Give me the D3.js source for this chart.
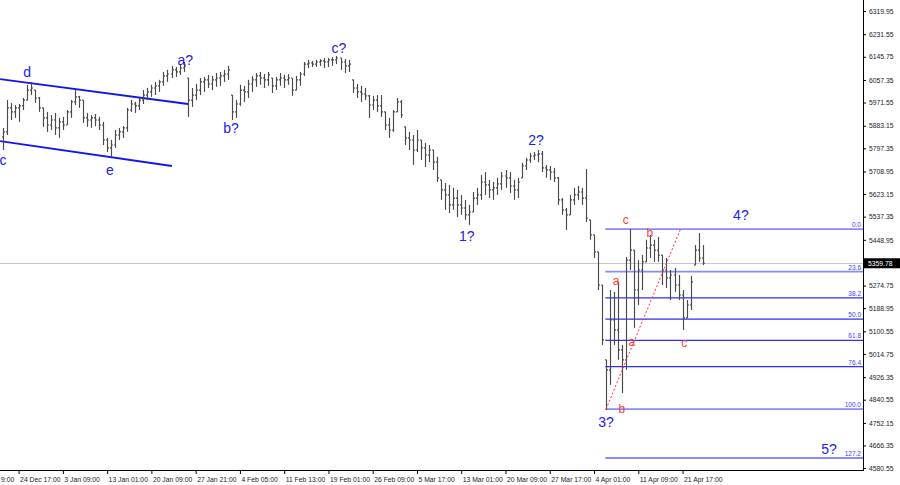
<!DOCTYPE html>
<html><head><meta charset="utf-8">
<script src="https://cdn.jsdelivr.net/npm/d3@7"></script>
<style>body{margin:0;background:#fff}svg{display:block}</style>
</head><body><svg id="c" width="900" height="485"></svg>
<script>
// ---- data (prices) ----
const highs=[
5875,5981,5970,5962,5966,5989,6039,6050,6019,5993,
5951,5936,5924,5932,5913,5917,5943,5981,6019,5997,
5981,5932,5924,5928,5917,5898,5837,5829,5867,5875,
5882,5951,5981,5974,5989,6019,6027,6039,6050,6058,
6088,6096,6111,6107,6115,6126,6065,6027,6042,6065,
6069,6077,6073,6084,6088,6096,6111,6000,5981,6039,
6035,6058,6073,6084,6088,6080,6088,6065,6069,6084,
6077,6080,6065,6073,6088,6126,6134,6130,6134,6137,
6141,6141,6145,6149,6141,6137,6134,6058,6042,6035,
6027,6000,5997,6000,6000,5936,5913,5943,5989,5981,
5879,5860,5848,5867,5829,5818,5810,5791,5765,5677,
5665,5658,5647,5639,5620,5601,5582,5631,5647,5696,
5707,5677,5669,5685,5707,5715,5707,5677,5685,5742,
5761,5780,5783,5791,5787,5734,5730,5723,5688,5608,
5570,5620,5647,5654,5647,5719,5525,5468,5403,5277,
4992,5258,5251,5289,5049,5384,5490,5410,5372,5391,
5449,5468,5449,5460,5391,5380,5334,5342,5315,5258,
5220,5312,5429,5475,5429];
const lows=[
5791,5848,5905,5913,5898,5943,5981,6000,5970,5936,
5879,5860,5867,5848,5837,5867,5886,5913,5962,5951,
5894,5879,5875,5882,5867,5810,5783,5765,5799,5829,
5837,5860,5936,5932,5943,5966,5981,5993,6000,6012,
6035,6050,6065,6069,6077,6088,5917,5955,5981,6000,
6012,6027,6019,6031,6035,6050,6058,5905,5913,5959,
5974,5989,6012,6031,6039,6027,6035,6008,6019,6035,
6027,6039,5997,6019,6035,6073,6103,6107,6107,6111,
6103,6107,6111,6118,6096,6084,6088,6008,5989,5974,
5981,5913,5943,5936,5917,5867,5837,5860,5936,5913,
5810,5791,5734,5783,5753,5726,5745,5715,5669,5601,
5563,5551,5563,5536,5544,5525,5506,5555,5582,5601,
5620,5608,5601,5620,5639,5647,5627,5601,5608,5685,
5715,5742,5753,5745,5707,5685,5677,5669,5582,5544,
5487,5544,5582,5601,5582,5517,5449,5380,5258,5049,
4801,4897,5049,4992,4866,4954,5334,5114,5201,5258,
5365,5380,5365,5365,5277,5266,5220,5251,5220,5106,
5152,5182,5353,5365,5353];
const closes=[
5860,5951,5936,5951,5959,5981,6019,6027,5989,5951,
5913,5886,5905,5875,5898,5886,5936,5974,5993,5981,
5913,5905,5913,5905,5886,5829,5799,5810,5848,5860,
5875,5943,5966,5959,5981,6000,6012,6027,6035,6050,
6073,6080,6096,6088,6103,6111,5981,6000,6019,6050,
6058,6042,6058,6065,6073,6080,6096,5936,5966,6019,
6012,6042,6058,6073,6065,6058,6077,6035,6058,6065,
6058,6065,6019,6058,6080,6118,6122,6118,6126,6130,
6126,6134,6134,6141,6126,6111,6118,6027,6012,6004,
5997,5962,5981,5959,5936,5886,5867,5936,5974,5924,
5837,5829,5791,5829,5799,5772,5791,5745,5685,5639,
5620,5582,5608,5582,5570,5544,5555,5608,5620,5669,
5658,5639,5647,5662,5692,5685,5654,5639,5669,5730,
5753,5768,5772,5776,5723,5715,5707,5685,5601,5563,
5544,5601,5620,5631,5608,5532,5468,5403,5277,5068,
4954,5144,5106,5030,4992,5372,5410,5258,5334,5365,
5418,5429,5410,5391,5334,5304,5315,5277,5239,5152,
5201,5289,5410,5380,5359.78];
const firstOpen=5840;
const lastPrice=5359.78;

const yTickValues=[6319.95,6231.55,6145.75,6057.35,5971.55,5883.15,5797.35,5708.95,5623.15,5537.35,5448.95,5274.75,5188.95,5100.55,5014.75,4926.35,4840.55,4752.15,4666.35,4580.55];
const dateLabels=["9:00","24 Dec 17:00","3 Jan 09:00","13 Jan 01:00","20 Jan 09:00","27 Jan 21:00","4 Feb 05:00","11 Feb 13:00","19 Feb 01:00","26 Feb 09:00","5 Mar 17:00","13 Mar 01:00","20 Mar 09:00","27 Mar 17:00","4 Apr 01:00","11 Apr 09:00","21 Apr 17:00"];
const dateBars=[-7,4,15,26,37,48,59,70,81,92,103,114,125,136,147,158,169];

const fibHigh=5490, fibLow=4805, fibStartBar=149.8;
const fibLevels=[0,23.6,38.2,50,61.8,76.4,100,127.2];
const fibNames=["0.0","23.6","38.2","50.0","61.8","76.4","100.0","127.2"];

const channelUpper=[[-0.6,6061],[46.1,5966]];
const channelLower=[[-0.6,5825],[42.1,5730]];
const redTrend=[[150,4805],[168.5,5490]];

const waveText=["c","d","e","a?","b?","c?","1?","2?","3?","4?","5?"];
const waveBar=[0.1,6.1,26.7,45.4,56.8,83.6,115.4,132.6,150,183.5,205.4];
const wavePrice=[5753,6088,5715,6134,5875,6179,5464,5829,4756,5544,4653];

const subText=["c","b","a","a","b","c"];
const subBar=[154.9,160.9,152.5,156.4,153.9,169.4];
const subPrice=[5525,5475,5293,5060,4805,5057];

// ---- chart ----
const svg=d3.select("#c");
const R=863, B=470;
const x=d3.scaleLinear().domain([0,214]).range([2.5,2.5+4.024*214]);
const y=d3.scaleLinear().domain([4580.55,6319.95]).range([468,11]);
const FONT="'Liberation Sans', Arial, sans-serif";

svg.append("rect").attr("width",900).attr("height",485).attr("fill","#fff");
svg.append("clipPath").attr("id","pc").append("rect").attr("x",0).attr("y",0).attr("width",R).attr("height",B);
const plot=svg.append("g").attr("clip-path","url(#pc)");

// current price line
plot.append("line").attr("x1",0).attr("x2",R).attr("y1",Math.round(y(lastPrice))+0.5).attr("y2",Math.round(y(lastPrice))+0.5)
  .attr("stroke","#c8c8c8").attr("stroke-width",1);

// fib lines
const light=[true,true,false,false,false,false,true,true];
fibLevels.forEach((lv,k)=>{
  const p=fibHigh-(fibHigh-fibLow)*lv/100;
  const yy=y(p);
  plot.append("line").attr("x1",x(fibStartBar)).attr("x2",R).attr("y1",yy).attr("y2",yy)
    .attr("stroke",light[k]?"#8a8aff":"#2f2ff0").attr("stroke-width",light[k]?1.8:1.2);
  svg.append("text").attr("x",861).attr("y",yy-2).attr("text-anchor","end")
    .attr("font-family",FONT).attr("font-size",6.5).attr("fill","#3a3aff").text(fibNames[k]);
});

// channel lines
[channelUpper,channelLower].forEach(c=>{
  plot.append("line").attr("x1",x(c[0][0])).attr("y1",y(c[0][1])).attr("x2",x(c[1][0])).attr("y2",y(c[1][1]))
    .attr("stroke","#1414f0").attr("stroke-width",1.8);
});

// OHLC bars
const bars=plot.append("g").attr("stroke","#4a4a4a").attr("stroke-width",1.15);
closes.forEach((c,i)=>{
  const h=highs[i], l=lows[i];
  let o=i===0?firstOpen:closes[i-1];
  o=Math.max(l,Math.min(h,o));
  const xx=Math.round(x(i))+0.5;
  bars.append("line").attr("x1",xx).attr("x2",xx).attr("y1",y(h)).attr("y2",y(l));
  bars.append("line").attr("x1",xx-1.5).attr("x2",xx).attr("y1",y(o)).attr("y2",y(o));
  bars.append("line").attr("x1",xx).attr("x2",xx+1.5).attr("y1",y(c)).attr("y2",y(c));
});

// red dotted trend
plot.append("line").attr("x1",x(redTrend[0][0])).attr("y1",y(redTrend[0][1])).attr("x2",x(redTrend[1][0])).attr("y2",y(redTrend[1][1]))
  .attr("stroke","#ff3030").attr("stroke-width",1).attr("stroke-dasharray","2,2");

// wave labels
waveText.forEach((t,k)=>{
  plot.append("text").attr("x",x(waveBar[k])).attr("y",y(wavePrice[k])).attr("dy","0.35em")
    .attr("text-anchor","middle").attr("font-family",FONT).attr("font-size",14).attr("fill","#2020f0").text(t);
});
subText.forEach((t,k)=>{
  plot.append("text").attr("x",x(subBar[k])).attr("y",y(subPrice[k])).attr("dy","0.35em")
    .attr("text-anchor","middle").attr("font-family",FONT).attr("font-size",12).attr("fill","#ff3a3a").text(t);
});

// right axis
const ya=svg.append("g").attr("transform",`translate(${R},0)`)
  .call(d3.axisRight(y).tickValues(yTickValues).tickSize(3).tickPadding(3).tickFormat(d3.format(".2f")));
ya.select(".domain").remove();
ya.selectAll("text").attr("font-family",FONT).attr("font-size",6.8).attr("fill","#222");
ya.selectAll("line").attr("stroke","#000");

// bottom axis
const xa=svg.append("g").attr("transform",`translate(0,${B})`)
  .call(d3.axisBottom(x).tickValues(dateBars).tickSize(4).tickPadding(3).tickFormat((d,i)=>dateLabels[i]));
xa.select(".domain").remove();
xa.selectAll("text").attr("text-anchor","start").attr("font-family",FONT).attr("font-size",6.8).attr("fill","#222")
  .attr("x",d=>{const px=x(d); return px<0 ? 0.5-px : 1;});
xa.selectAll("line").attr("stroke","#000");

// frame lines
svg.append("line").attr("x1",R+0.5).attr("x2",R+0.5).attr("y1",0).attr("y2",B+1).attr("stroke","#000");
svg.append("line").attr("x1",0).attr("x2",R+1).attr("y1",B+0.5).attr("y2",B+0.5).attr("stroke","#000");

// current price box
const yp=y(lastPrice);
svg.append("rect").attr("x",R+1).attr("y",yp-5).attr("width",37).attr("height",10).attr("fill","#000");
svg.append("text").attr("x",R+5).attr("y",yp).attr("dy","0.35em").attr("font-family",FONT).attr("font-size",6.8)
  .attr("fill","#fff").text(d3.format(".2f")(lastPrice));
</script></body></html>
